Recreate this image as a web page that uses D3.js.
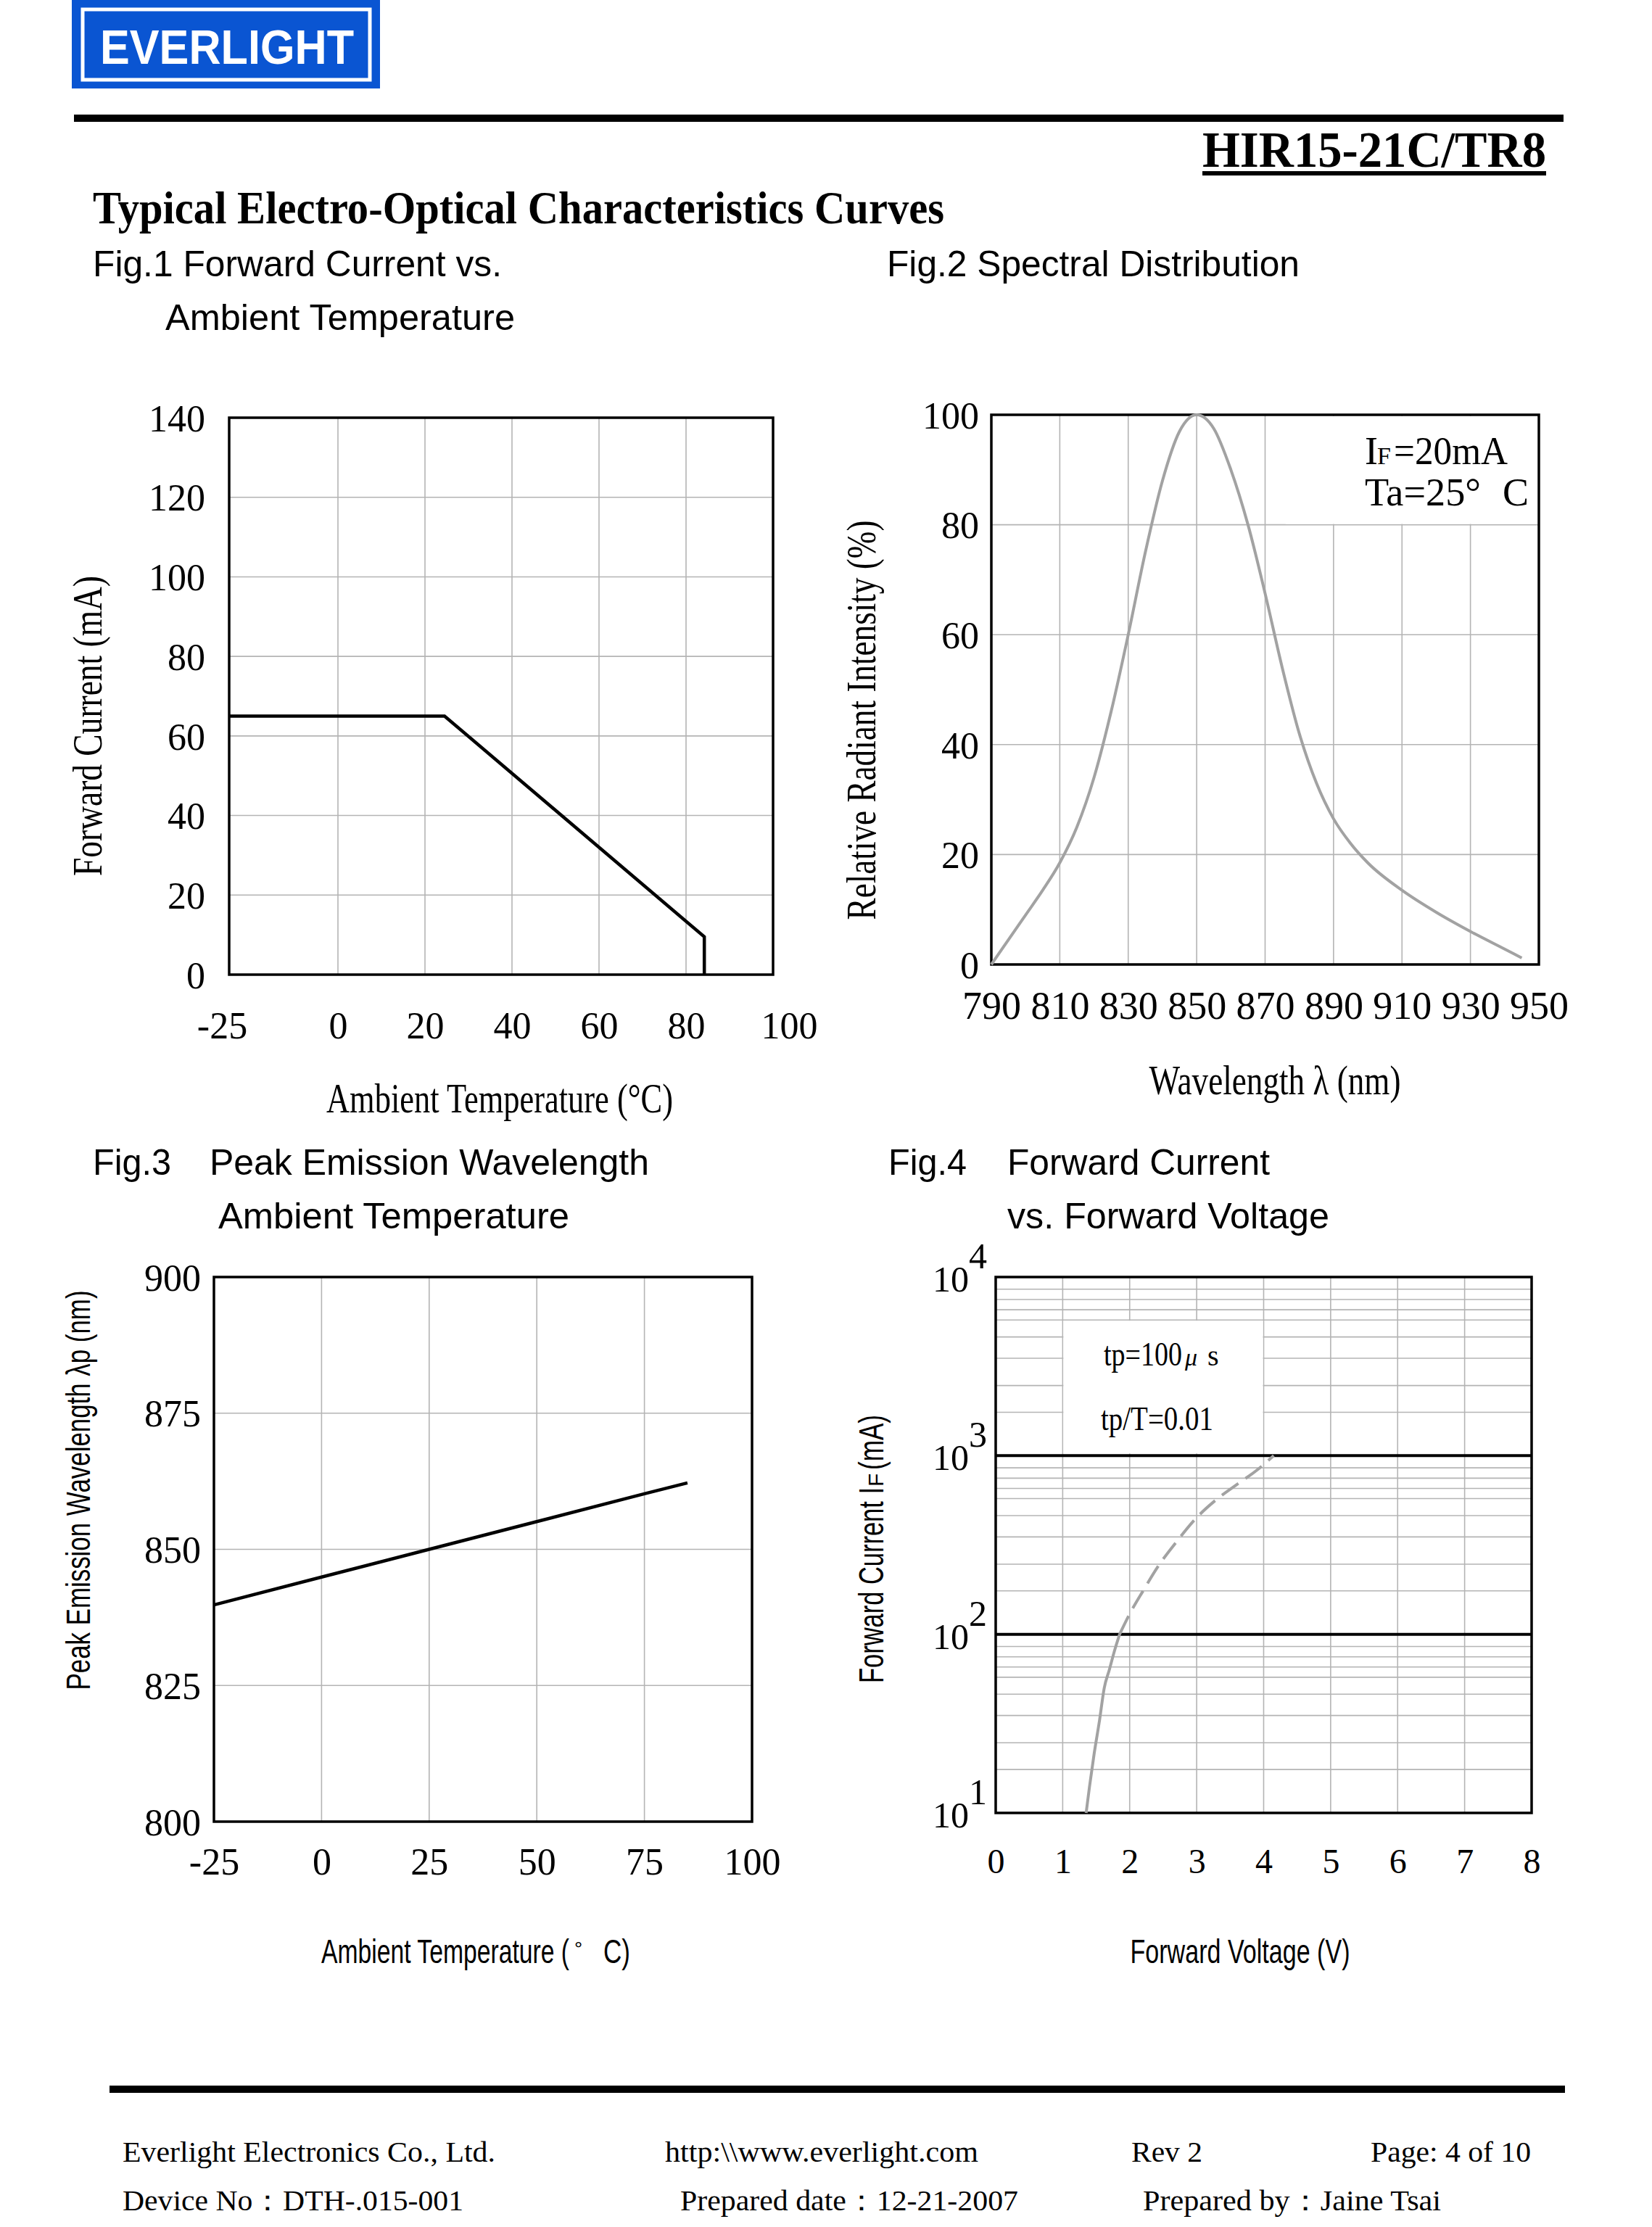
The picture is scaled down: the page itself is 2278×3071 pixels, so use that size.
<!DOCTYPE html>
<html>
<head>
<meta charset="utf-8">
<script src="https://cdn.jsdelivr.net/npm/d3@7"></script>
<style>
  body { margin: 0; background: #fff; }
  svg { display: block; }
</style>
</head>
<body>
<svg id="page"></svg>
<script>
// ---- Fig.1 forward current derating
const fig1Temp = [-25, 24.5, 84.2, 84.2]
const fig1Current = [65, 65, 9.5, 0]
const fig1XTicks = [-25, 0, 20, 40, 60, 80, 100]
const fig1YTicks = [0, 20, 40, 60, 80, 100, 120, 140]

// ---- Fig.2 spectral distribution
const fig2Wavelength = [790, 795, 800, 805, 810, 815, 820, 825, 830, 835, 840, 845, 850, 855, 860, 865, 870, 875, 880, 885, 890, 895, 900, 910, 920, 930, 940, 945]
const fig2Intensity = [0, 4.5, 9, 13.5, 18.5, 25, 34, 46, 60, 75, 88, 97, 100, 97.5, 90, 80, 67.5, 54, 42, 33, 26.5, 22, 18.5, 13.5, 9.5, 6, 2.8, 1.2]
const fig2XTicks = [790, 810, 830, 850, 870, 890, 910, 930, 950]
const fig2YTicks = [0, 20, 40, 60, 80, 100]

// ---- Fig.3 peak wavelength vs temperature
const fig3Temp = [-25, 0, 25, 50, 75, 85]
const fig3Peak = [839.8, 844.9, 850, 855.1, 860.2, 862.2]
const fig3XTicks = [-25, 0, 25, 50, 75, 100]
const fig3YTicks = [800, 825, 850, 875, 900]

// ---- Fig.4 forward current vs forward voltage
const fig4SolidV = [1.35, 1.40, 1.47, 1.55, 1.62, 1.70, 1.77, 1.85]
const fig4SolidI = [10, 14, 21.5, 33, 50, 64, 80, 100]
const fig4DashV = [1.85, 2.0, 2.2, 2.44, 2.7, 3.0, 3.3, 3.6, 3.9, 4.15]
const fig4DashI = [100, 130, 175, 245, 330, 450, 570, 690, 830, 1000]
const fig4XTicks = [0, 1, 2, 3, 4, 5, 6, 7, 8]
const fig4Decades = [1, 2, 3, 4]
const fig4Minor = [1.75, 2.47, 3.51, 4.62, 5.75, 6.56, 7.48, 8.55]

const SERIF = "'Liberation Serif', 'Times New Roman', serif"
const SANS = "'Liberation Sans', Arial, sans-serif"
const NARROW = "'Liberation Sans Narrow', 'Liberation Sans', Arial, sans-serif"
const GRID = "#b4b4b4"
const CURVE = "#a2a2a2"

const W = 2278, H = 3071
const svg = d3.select("#page").attr("width", W).attr("height", H)
svg.append("rect").attr("width", W).attr("height", H).attr("fill", "#fff")

function txt(parent, s, x, y, o = {}) {
    const t = parent.append("text")
        .attr("x", x).attr("y", y)
        .attr("font-family", o.family || SERIF)
        .attr("font-size", o.size || 40)
        .attr("text-anchor", o.anchor || "start")
        .attr("fill", o.fill || "#000")
    if (o.weight) t.attr("font-weight", o.weight)
    if (o.style) t.attr("font-style", o.style)
    if (o.len) t.attr("textLength", o.len).attr("lengthAdjust", "spacingAndGlyphs")
    if (o.rotate) t.attr("transform", `rotate(-90, ${x}, ${y})`)
    t.text(s)
    return t
}

// ---------- header ----------
const logo = svg.append("g")
logo.append("rect").attr("x", 99).attr("y", 0).attr("width", 425).attr("height", 122).attr("fill", "#0a55d2")
logo.append("rect").attr("x", 114).attr("y", 13).attr("width", 396).attr("height", 97)
    .attr("fill", "none").attr("stroke", "#fff").attr("stroke-width", 5)
txt(logo, "EVERLIGHT", 138, 88, { family: SANS, size: 66, weight: "bold", len: 350, fill: "#fff" })

svg.append("rect").attr("x", 102).attr("y", 158).attr("width", 2054).attr("height", 10).attr("fill", "#000")

txt(svg, "HIR15-21C/TR8", 2132, 230, { size: 70, weight: "bold", anchor: "end", len: 474 })
svg.append("rect").attr("x", 1658).attr("y", 236).attr("width", 474).attr("height", 6).attr("fill", "#000")

txt(svg, "Typical Electro-Optical Characteristics Curves", 128, 308, { size: 64, weight: "bold", len: 1174 })

txt(svg, "Fig.1 Forward Current vs.", 128, 381, { family: SANS, size: 50, len: 564 })
txt(svg, "Ambient Temperature", 228, 455, { family: SANS, size: 50, len: 482 })
txt(svg, "Fig.2 Spectral Distribution", 1223, 381, { family: SANS, size: 50, len: 569 })
txt(svg, "Fig.3", 128, 1620, { family: SANS, size: 50, len: 108 })
txt(svg, "Peak Emission Wavelength", 289, 1620, { family: SANS, size: 50, len: 606 })
txt(svg, "Ambient Temperature", 301, 1694, { family: SANS, size: 50, len: 484 })
txt(svg, "Fig.4", 1225, 1620, { family: SANS, size: 50, len: 108 })
txt(svg, "Forward Current", 1389, 1620, { family: SANS, size: 50, len: 362 })
txt(svg, "vs. Forward Voltage", 1389, 1694, { family: SANS, size: 50, len: 444 })

// ---------- shared drawing ----------
function frame(g, x, y) {
    const [x0, x1] = x.range(), [y0, y1] = y.range()
    g.append("rect")
        .attr("x", x0).attr("y", y1)
        .attr("width", x1 - x0).attr("height", y0 - y1)
        .attr("fill", "none").attr("stroke", "#000").attr("stroke-width", 3.5)
}

function vgrid(g, x, y, values) {
    g.append("g").selectAll("line").data(values).join("line")
        .attr("x1", d => x(d)).attr("x2", d => x(d))
        .attr("y1", y.range()[0]).attr("y2", y.range()[1])
        .attr("stroke", GRID).attr("stroke-width", 1.6)
}

function hgrid(g, x, y, values) {
    g.append("g").selectAll("line").data(values).join("line")
        .attr("y1", d => y(d)).attr("y2", d => y(d))
        .attr("x1", x.range()[0]).attr("x2", x.range()[1])
        .attr("stroke", GRID).attr("stroke-width", 1.6)
}

function xLabels(g, x, y, ticks, offset, size, shift = () => 0) {
    g.append("g")
        .attr("transform", `translate(0, ${y.range()[0]})`)
        .call(d3.axisBottom(x).tickValues(ticks).tickSize(0).tickFormat(d => d))
        .call(a => a.select(".domain").remove())
        .call(a => a.selectAll("text")
            .attr("y", offset).attr("dy", null)
            .attr("x", (d, i) => shift(i, ticks.length))
            .attr("font-family", SERIF).attr("font-size", size).attr("fill", "#000"))
}

function yLabels(g, x, y, ticks, gap, size) {
    g.append("g")
        .attr("transform", `translate(${x.range()[0]}, 0)`)
        .call(d3.axisLeft(y).tickValues(ticks).tickSize(0).tickPadding(gap).tickFormat(d => d))
        .call(a => a.select(".domain").remove())
        .call(a => a.selectAll("text")
            .attr("dy", "0.35em")
            .attr("font-family", SERIF).attr("font-size", size).attr("fill", "#000"))
}

// ---------- Fig.1 ----------
{
    const g = svg.append("g")
    const x = d3.scaleLinear().domain([-25, 100]).range([316, 1066])
    const y = d3.scaleLinear().domain([0, 140]).range([1344, 576])
    vgrid(g, x, y, [0, 20, 40, 60, 80])
    hgrid(g, x, y, [20, 40, 60, 80, 100, 120])
    frame(g, x, y)
    const pts = fig1Temp.map((t, i) => [t, fig1Current[i]])
    g.append("path")
        .attr("d", d3.line().x(d => x(d[0])).y(d => y(d[1]))(pts))
        .attr("fill", "none").attr("stroke", "#000").attr("stroke-width", 4.5)
    // the first and last labels sit a little outside their ticks in the original
    xLabels(g, x, y, fig1XTicks, 88, 52, (i, n) => i === 0 ? -10 : i === n - 1 ? 22 : 0)
    yLabels(g, x, y, fig1YTicks, 33, 52)
    txt(g, "Forward Current (mA)", 140, 1001, { size: 56, anchor: "middle", rotate: true, len: 414 })
    txt(g, "Ambient Temperature (°C)", 689, 1534, { size: 56, anchor: "middle", len: 478 })
}

// ---------- Fig.2 ----------
{
    const g = svg.append("g")
    const x = d3.scaleLinear().domain([790, 950]).range([1367, 2122])
    const y = d3.scaleLinear().domain([0, 100]).range([1330, 572])
    vgrid(g, x, y, fig2XTicks.slice(1, -1))
    hgrid(g, x, y, fig2YTicks.slice(1, -1))
    // note box hides the grid behind the conditions
    g.append("rect")
        .attr("x", x(876)).attr("y", y(100) + 2)
        .attr("width", x(950) - x(876) - 2).attr("height", y(80) - y(100) - 3)
        .attr("fill", "#fff")
    frame(g, x, y)
    const pts = fig2Wavelength.map((w, i) => [w, fig2Intensity[i]])
    g.append("path")
        .attr("d", d3.line().curve(d3.curveMonotoneX).x(d => x(d[0])).y(d => y(d[1]))(pts))
        .attr("fill", "none").attr("stroke", CURVE).attr("stroke-width", 4)
    xLabels(g, x, y, fig2XTicks, 75, 54)
    yLabels(g, x, y, fig2YTicks, 17, 52)
    txt(g, "I", 1882, 640, { size: 54 })
    txt(g, "F", 1899, 640, { size: 34 })
    txt(g, "=20mA", 1922, 640, { size: 54, len: 157 })
    txt(g, "Ta=25°", 1882, 697, { size: 54, len: 160 })
    txt(g, "C", 2072, 697, { size: 54 })
    txt(g, "Relative Radiant Intensity (%)", 1207, 993, { size: 56, anchor: "middle", rotate: true, len: 551 })
    txt(g, "Wavelength λ (nm)", 1758, 1509, { size: 56, anchor: "middle", len: 347 })
}

// ---------- Fig.3 ----------
{
    const g = svg.append("g")
    const x = d3.scaleLinear().domain([-25, 100]).range([295, 1037])
    const y = d3.scaleLinear().domain([800, 900]).range([2512, 1761])
    vgrid(g, x, y, [0, 25, 50, 75])
    hgrid(g, x, y, [825, 850, 875])
    frame(g, x, y)
    const pts = fig3Temp.map((t, i) => [t, fig3Peak[i]])
    g.append("path")
        .attr("d", d3.line().x(d => x(d[0])).y(d => y(d[1]))(pts))
        .attr("fill", "none").attr("stroke", "#000").attr("stroke-width", 4.5)
    xLabels(g, x, y, fig3XTicks, 73, 52)
    yLabels(g, x, y, fig3YTicks, 18, 52)
    txt(g, "Peak Emission Wavelength λp (nm)", 124, 2055, { family: NARROW, size: 46, anchor: "middle", rotate: true, len: 551 })
    txt(g, "Ambient Temperature (", 443, 2707, { family: NARROW, size: 46, len: 342 })
    txt(g, "°", 792, 2697, { family: NARROW, size: 28 })
    txt(g, "C)", 832, 2707, { family: NARROW, size: 46, len: 37 })
}

// ---------- Fig.4 ----------
{
    const g = svg.append("g")
    const x = d3.scaleLinear().domain([0, 8]).range([1373, 2112])
    const y = d3.scaleLog().domain([10, 10000]).range([2500, 1761])
    const minor = []
    for (const dec of [10, 100, 1000]) for (const m of fig4Minor) minor.push(m * dec)
    hgrid(g, x, y, minor)
    vgrid(g, x, y, fig4XTicks.slice(1, -1))
    g.append("rect")
        .attr("x", x(1) + 1).attr("y", y(5750) + 1)
        .attr("width", x(4) - x(1) - 2).attr("height", y(1000) - y(5750) - 4)
        .attr("fill", "#fff")
    g.append("g").selectAll("line").data([100, 1000]).join("line")
        .attr("x1", x.range()[0]).attr("x2", x.range()[1])
        .attr("y1", d => y(d)).attr("y2", d => y(d))
        .attr("stroke", "#000").attr("stroke-width", 4)
    frame(g, x, y)
    const line = d3.line().curve(d3.curveMonotoneX).x(d => x(d[0])).y(d => y(d[1]))
    g.append("path")
        .attr("d", line(fig4SolidV.map((v, i) => [v, fig4SolidI[i]])))
        .attr("fill", "none").attr("stroke", CURVE).attr("stroke-width", 4)
    g.append("path")
        .attr("d", line(fig4DashV.map((v, i) => [v, fig4DashI[i]])))
        .attr("fill", "none").attr("stroke", CURVE).attr("stroke-width", 4)
        .attr("stroke-dasharray", "28,12")
    xLabels(g, x, y, fig4XTicks, 83, 48)
    g.append("g").selectAll("text").data(fig4Decades).join("text")
        .attr("x", x.range()[0] - 12)
        .attr("y", d => y(Math.pow(10, d)) + 20)
        .attr("text-anchor", "end")
        .attr("font-family", SERIF).attr("font-size", 50)
        .each(function (d) {
            const t = d3.select(this)
            t.append("tspan").text("10")
            t.append("tspan").attr("dy", -32).text(d)
        })
    txt(g, "tp=100", 1522, 1883, { size: 47, len: 108 })
    txt(g, "μ", 1634, 1883, { size: 34, style: "italic" })
    txt(g, "s", 1665, 1883, { size: 40 })
    txt(g, "tp/T=0.01", 1518, 1972, { size: 47, len: 155 })
    txt(g, "Forward Current I", 1218, 2321, { family: NARROW, size: 48, rotate: true, len: 270 })
    txt(g, "F", 1218, 2050, { family: NARROW, size: 30, rotate: true })
    txt(g, "(mA)", 1218, 2027, { family: NARROW, size: 48, rotate: true, len: 76 })
    txt(g, "Forward Voltage (V)", 1710, 2707, { family: NARROW, size: 46, anchor: "middle", len: 303 })
}

// ---------- footer ----------
svg.append("rect").attr("x", 151).attr("y", 2876).attr("width", 2007).attr("height", 10).attr("fill", "#000")
const foot = svg.append("g")
txt(foot, "Everlight Electronics Co., Ltd.", 169, 2981, { size: 40, len: 514 })
txt(foot, "http:\\\\www.everlight.com", 917, 2981, { size: 40, len: 432 })
txt(foot, "Rev 2", 1560, 2981, { size: 40, len: 98 })
txt(foot, "Page: 4 of 10", 1890, 2981, { size: 40, len: 221 })
txt(foot, "Device No：DTH-.015-001", 169, 3048, { size: 40, len: 470 })
txt(foot, "Prepared date：12-21-2007", 938, 3048, { size: 40, len: 466 })
txt(foot, "Prepared by：Jaine Tsai", 1576, 3048, { size: 40, len: 411 })
</script>
</body>
</html>
